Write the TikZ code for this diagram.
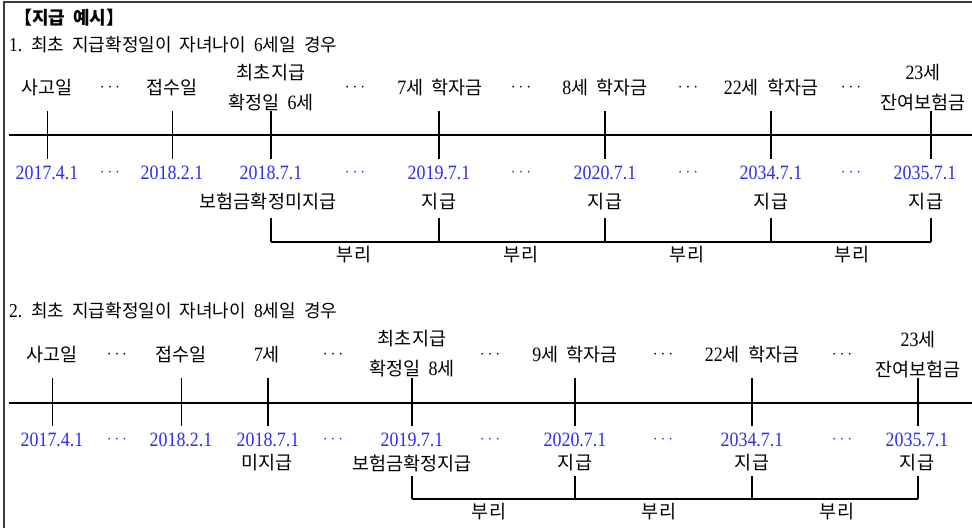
\documentclass[tikz,border=0pt]{standalone}
\usepackage{fontspec}
\setmainfont[Scale=1.1, FakeStretch=0.88]{Liberation Serif}
\newfontfamily\krfont{Noto Sans CJK KR}
\newcommand{\hk}[1]{{\krfont #1}}
\newcommand{\wsp}{\hspace{0.45em}}
\definecolor{dateblue}{RGB}{45,45,245}
\definecolor{framegray}{RGB}{60,60,60}
\begin{document}
\begin{tikzpicture}[x=1pt,y=-1pt,
  lbl/.style={inner sep=0pt, font=\fontsize{18.5}{30}\selectfont, align=center},
  datelbl/.style={inner sep=0pt, font=\fontsize{18.5}{20}\selectfont, text=dateblue},
  dotsblk/.style={inner sep=0pt, font=\fontsize{19}{19}\selectfont},
  dotsblu/.style={dotsblk, text=dateblue},
  head/.style={inner sep=0pt, anchor=west, font=\fontsize{18}{20}\selectfont},
  thinln/.style={line width=1pt},
  tk/.style={line width=2.6pt},
  axisln/.style={line width=1.3pt},
  brk/.style={line width=2pt}
]
\useasboundingbox (0,0) rectangle (972,528);
% frame (top and left visible)
\coordinate (fbl) at (3.5,528);
\coordinate (ftl) at (3.5,1.5);
\coordinate (ftr) at (972,1.5);
\draw[line width=2pt, framegray] (fbl) -- (ftl) -- (ftr);

\node[head] (title) at (14,18) {\hk{\bfseries 【지급\wsp 예시】}};

% ================= Section 1 =================
\node[head] (h1) at (9,45) {1.\wsp\hk{최초\wsp 지급확정일이\wsp 자녀나이\wsp}6\hk{세일\wsp 경우}};

\coordinate (ax1l) at (9,135);
\coordinate (ax1r) at (972,135);
\draw[axisln] (ax1l) -- (ax1r);

\foreach \n/\x/\s in {a/47/thinln, b/172/thinln, c/271/tk, d/439/tk, e/605/tk, f/771/tk, g/931/tk} {
  \coordinate (p1\n t) at (\x,111);
  \coordinate (p1\n b) at (\x,159);
  \draw[\s] (p1\n t) -- (p1\n b);
}

\node[lbl] (l1a) at (47,88) {\hk{사고일}};
\node[dotsblk] (d1a) at (110,88) {$\cdots$};
\node[lbl] (l1b) at (172,88) {\hk{접수일}};
\node[lbl] (l1c) at (271,88) {\hk{최초지급}\\\hk{확정일\wsp}6\hk{세}};
\node[dotsblk] (d1b) at (355,88) {$\cdots$};
\node[lbl] (l1d) at (440,88) {7\hk{세\wsp 학자금}};
\node[dotsblk] (d1c) at (521,88) {$\cdots$};
\node[lbl] (l1e) at (605,88) {8\hk{세\wsp 학자금}};
\node[dotsblk] (d1d) at (688,88) {$\cdots$};
\node[lbl] (l1f) at (771,88) {22\hk{세\wsp 학자금}};
\node[dotsblk] (d1e) at (851,88) {$\cdots$};
\node[lbl] (l1g) at (923,88) {23\hk{세}\\\hk{잔여보험금}};

\node[datelbl] (t1a) at (47,173) {2017.4.1};
\node[dotsblu] (e1a) at (110,173) {$\cdots$};
\node[datelbl] (t1b) at (172,173) {2018.2.1};
\node[datelbl] (t1c) at (271,173) {2018.7.1};
\node[dotsblu] (e1b) at (355,173) {$\cdots$};
\node[datelbl] (t1d) at (439,173) {2019.7.1};
\node[dotsblu] (e1c) at (521,173) {$\cdots$};
\node[datelbl] (t1e) at (605,173) {2020.7.1};
\node[dotsblu] (e1d) at (688,173) {$\cdots$};
\node[datelbl] (t1f) at (771,173) {2034.7.1};
\node[dotsblu] (e1e) at (851,173) {$\cdots$};
\node[datelbl] (t1g) at (925,173) {2035.7.1};

\node[lbl] (s1c) at (268,202) {\hk{보험금확정미지급}};
\node[lbl] (s1d) at (439,202) {\hk{지급}};
\node[lbl] (s1e) at (605,202) {\hk{지급}};
\node[lbl] (s1f) at (771,202) {\hk{지급}};
\node[lbl] (s1g) at (926,202) {\hk{지급}};

\foreach \n/\x in {c/271, d/439, e/605, f/771, g/931} {
  \coordinate (q1\n t) at (\x,218);
  \coordinate (q1\n b) at (\x,242);
  \draw[brk] (q1\n t) -- (q1\n b);
}
\draw[brk] (q1cb) -- (q1gb);

\node[lbl] (b1a) at (354,255) {\hk{부리}};
\node[lbl] (b1b) at (521,255) {\hk{부리}};
\node[lbl] (b1c) at (687,255) {\hk{부리}};
\node[lbl] (b1d) at (852,255) {\hk{부리}};

% ================= Section 2 =================
\node[head] (h2) at (9,311) {2.\wsp\hk{최초\wsp 지급확정일이\wsp 자녀나이\wsp}8\hk{세일\wsp 경우}};

\coordinate (ax2l) at (9,403);
\coordinate (ax2r) at (972,403);
\draw[axisln] (ax2l) -- (ax2r);

\foreach \n/\x/\s in {a/52/thinln, b/181/thinln, c/268/tk, d/412/tk, e/575/tk, f/752/tk, g/918/tk} {
  \coordinate (p2\n t) at (\x,378);
  \coordinate (p2\n b) at (\x,426);
  \draw[\s] (p2\n t) -- (p2\n b);
}

\node[lbl] (l2a) at (52,355) {\hk{사고일}};
\node[dotsblk] (d2a) at (117,355) {$\cdots$};
\node[lbl] (l2b) at (181,355) {\hk{접수일}};
\node[lbl] (l2c) at (267,355) {7\hk{세}};
\node[dotsblk] (d2b) at (333,355) {$\cdots$};
\node[lbl] (l2d) at (412,354) {\hk{최초지급}\\\hk{확정일\wsp}8\hk{세}};
\node[dotsblk] (d2c) at (490,355) {$\cdots$};
\node[lbl] (l2e) at (575,355) {9\hk{세\wsp 학자금}};
\node[dotsblk] (d2d) at (663,355) {$\cdots$};
\node[lbl] (l2f) at (752,355) {22\hk{세\wsp 학자금}};
\node[dotsblk] (d2e) at (842,355) {$\cdots$};
\node[lbl] (l2g) at (918,355) {23\hk{세}\\\hk{잔여보험금}};

\node[datelbl] (t2a) at (52,440) {2017.4.1};
\node[dotsblu] (e2a) at (117,440) {$\cdots$};
\node[datelbl] (t2b) at (181,440) {2018.2.1};
\node[datelbl] (t2c) at (268,440) {2018.7.1};
\node[dotsblu] (e2b) at (333,440) {$\cdots$};
\node[datelbl] (t2d) at (412,440) {2019.7.1};
\node[dotsblu] (e2c) at (490,440) {$\cdots$};
\node[datelbl] (t2e) at (575,440) {2020.7.1};
\node[dotsblu] (e2d) at (663,440) {$\cdots$};
\node[datelbl] (t2f) at (752,440) {2034.7.1};
\node[dotsblu] (e2e) at (842,440) {$\cdots$};
\node[datelbl] (t2g) at (917,440) {2035.7.1};

\node[lbl] (s2c) at (267,463) {\hk{미지급}};
\node[lbl] (s2d) at (412,463) {\hk{보험금확정지급}};
\node[lbl] (s2e) at (575,463) {\hk{지급}};
\node[lbl] (s2f) at (752,463) {\hk{지급}};
\node[lbl] (s2g) at (917,463) {\hk{지급}};

\foreach \n/\x in {d/412, e/575, f/752, g/918} {
  \coordinate (q2\n t) at (\x,476);
  \coordinate (q2\n b) at (\x,499);
  \draw[brk] (q2\n t) -- (q2\n b);
}
\draw[brk] (q2db) -- (q2gb);

\node[lbl] (b2a) at (489,512) {\hk{부리}};
\node[lbl] (b2b) at (659,512) {\hk{부리}};
\node[lbl] (b2c) at (837,512) {\hk{부리}};
\end{tikzpicture}
\end{document}
